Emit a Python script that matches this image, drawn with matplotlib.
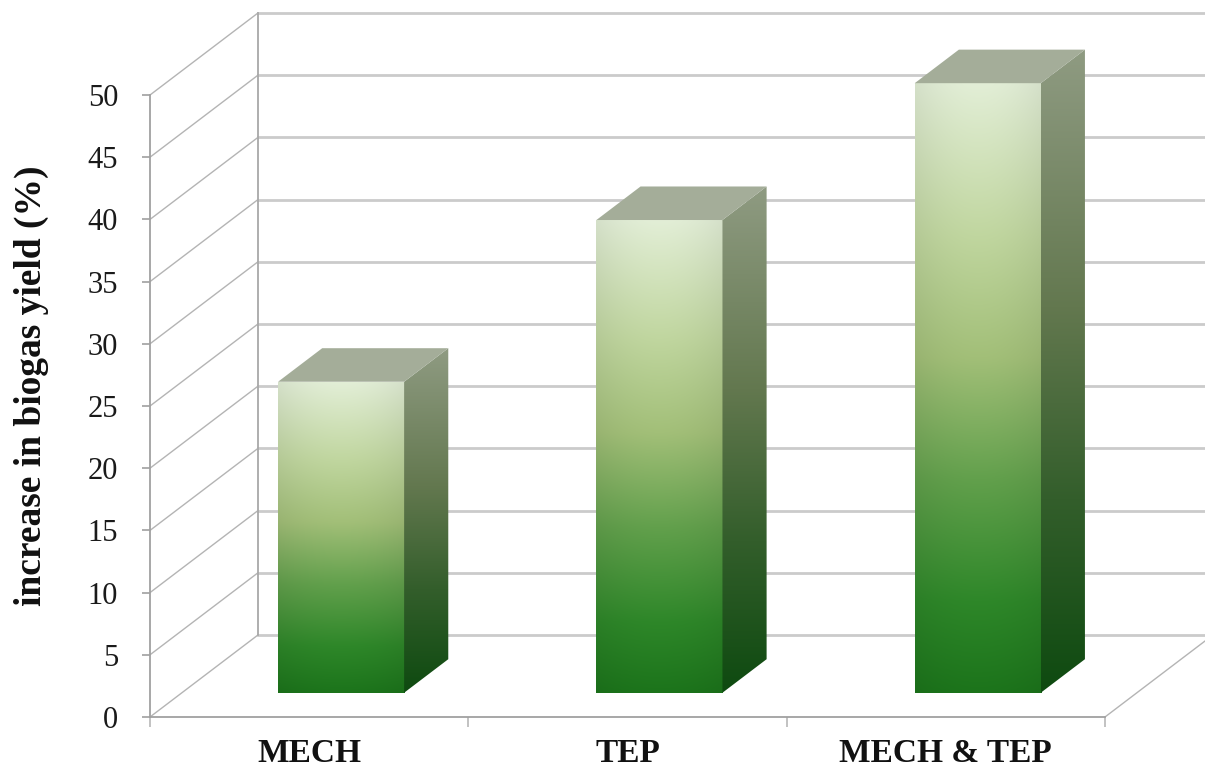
import numpy as np
import matplotlib
matplotlib.use('Agg')
import matplotlib.pyplot as plt
from matplotlib.patches import Polygon
from matplotlib.colors import LinearSegmentedColormap

plt.rcParams['font.family'] = ['Liberation Serif', 'DejaVu Serif']

categories = ['MECH', 'TEP', 'MECH & TEP']
increase = [25, 38, 49]
y_ticks = list(range(0, 55, 5))

# fake 3-D box: oblique depth offset in data units
DX, DY = 0.339, 6.59
FRONT, BACK = 0.296, 0.705   # bar front / back as fraction of the depth
BAR_W = 0.396

front_cmap = LinearSegmentedColormap.from_list('front', [
    (0.0, '#1c741b'), (0.15, '#2e8729'), (0.35, '#62a04c'),
    (0.55, '#a2bf78'), (0.75, '#c0d69f'), (1.0, '#e2eed6')])
side_cmap = LinearSegmentedColormap.from_list('side', [
    (0.0, '#0e4a10'), (0.3, '#335e2b'), (0.6, '#63784f'), (1.0, '#8f9b82')])
top_color = '#a4ad99'

fig = plt.figure(figsize=(12.05, 7.72), dpi=100)
ax = fig.add_axes([150 / 1205, 55 / 772, 1055 / 1205, 717 / 772])
xmax, ymax = 1055 / 318.33, 717 / 12.44

# walls: diagonal lines on the side wall, horizontal lines on the back wall
for v in y_ticks:
    ax.plot([0, DX], [v, v + DY], color='#b4b4b4', lw=1.0, zorder=1)
    ax.plot([DX, xmax + 1], [v + DY, v + DY], color='#cbcbcb', lw=2.0, zorder=1)
ax.plot([DX, DX], [DY, y_ticks[-1] + DY], color='#a8a8a8', lw=1.3, zorder=1)
n = len(categories)
ax.plot([n, n + DX], [0, DY], color='#b4b4b4', lw=1.0, zorder=1)
ax.plot([n + DX, n + DX], [DY, y_ticks[-1] + DY], color='#a8a8a8', lw=1.3, zorder=1)

grad = np.linspace(0, 1, 256).reshape(-1, 1)
shade = 1 - 0.06 * np.abs(np.linspace(-1, 1, 64)) ** 2

for i, v in enumerate(increase):
    x0 = i + (1 - BAR_W) / 2 + FRONT * DX
    x1 = x0 + BAR_W
    y0 = FRONT * DY
    y1 = y0 + v
    ddx = (BACK - FRONT) * DX
    ddy = (BACK - FRONT) * DY

    # front face
    rgba = front_cmap(grad)[:, :, :3] * np.ones((1, 64, 1))
    rgba = rgba * shade[None, :, None]
    ax.imshow(rgba, extent=[x0, x1, y0, y1], origin='lower', aspect='auto',
              interpolation='bicubic', zorder=3)

    # right face
    side = Polygon([(x1, y0), (x1 + ddx, y0 + ddy), (x1 + ddx, y1 + ddy), (x1, y1)],
                   closed=True, facecolor='none', edgecolor='none')
    ax.add_patch(side)
    im = ax.imshow(grad, extent=[x1, x1 + ddx, y0, y1 + ddy], origin='lower',
                   aspect='auto', cmap=side_cmap, interpolation='bicubic', zorder=3)
    im.set_clip_path(side)

    # top face
    ax.add_patch(Polygon([(x0, y1), (x1, y1), (x1 + ddx, y1 + ddy), (x0 + ddx, y1 + ddy)],
                         closed=True, facecolor=top_color, edgecolor='none', zorder=3))

ax.set_xlim(0, xmax)
ax.set_ylim(0, ymax)

for s in ['top', 'right']:
    ax.spines[s].set_visible(False)
ax.spines['left'].set_bounds(0, y_ticks[-1])
ax.spines['bottom'].set_bounds(0, n)
for s in ['left', 'bottom']:
    ax.spines[s].set_color('#a0a0a0')
    ax.spines[s].set_linewidth(1.3)
    ax.spines[s].set_zorder(2)

ax.set_yticks(y_ticks)
ax.set_yticklabels([str(t) for t in y_ticks])
ax.tick_params(axis='y', direction='out', length=6, width=1.2, color='#a0a0a0',
               pad=17, labelsize=22, labelcolor='#1a1a1a')

ax.set_xticks(range(n + 1))
ax.set_xticklabels([])
ax.tick_params(axis='x', which='major', direction='out', length=7, width=1.2,
               color='#b8b8b8')
ax.set_xticks([i + 0.5 for i in range(n)], minor=True)
ax.set_xticklabels(categories, minor=True, fontweight='bold', fontsize=24)
ax.tick_params(axis='x', which='minor', length=0, pad=15, labelcolor='#111111')

fig.text(31 / 1205, 1 - 386 / 772, 'increase in biogas yield (%)', rotation=90,
         ha='center', va='center', fontsize=27, fontweight='bold', color='#111111')

fig.savefig('out.png', dpi=100)
